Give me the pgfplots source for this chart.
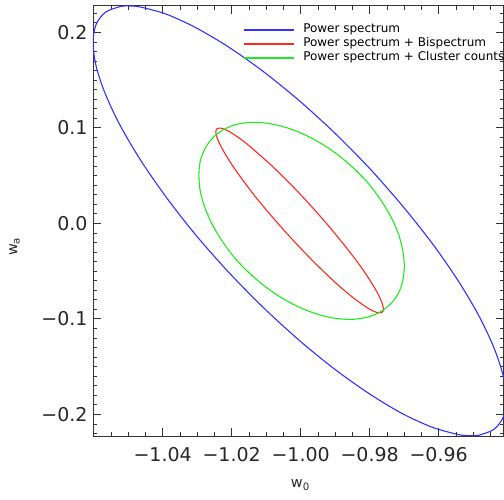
\documentclass[border=0pt]{standalone}
\usepackage{fontspec}
\setmainfont{DejaVu Sans}
\usepackage{pgfplots}
\pgfplotsset{compat=1.18}
\definecolor{cblue}{RGB}{50,50,255}
\definecolor{cred}{RGB}{255,40,30}
\definecolor{cgreen}{RGB}{30,235,30}
\begin{document}
\begin{tikzpicture}
\useasboundingbox (0,0) rectangle (504pt,500pt);
\begin{axis}[
  at={(93pt,64pt)}, anchor=south west,
  scale only axis, width=410.5pt, height=430.3pt,
  xmin=-1.0602, xmax=-0.9412, ymin=-0.2227, ymax=0.2279,
  xtick={-1.04,-1.02,-1.00,-0.98,-0.96},
  xticklabels={−1.04,−1.02,−1.00,−0.98,−0.96},
  ytick={-0.2,-0.1,0,0.1,0.2},
  yticklabels={−0.2,−0.1,0.0,0.1,0.2},
  minor xtick={-1.06,-1.055,...,-0.94},
  minor ytick={-0.22,-0.21,...,0.225},
  tick align=inside,
  major tick length=8pt, minor tick length=4pt,
  tick label style={font=\fontsize{19}{22}\selectfont, black!85},
  xticklabel style={yshift=-8pt},
  yticklabel style={xshift=-2pt},
  axis line style={black!80, line width=0.8pt},
  every tick/.style={black!80, line width=0.7pt},
  label style={font=\fontsize{14.5}{17}\selectfont, black!85},
  xlabel={w\textsubscript{0}}, ylabel={w\textsubscript{a}},
  xlabel style={at={(axis description cs:0.505,-0.1208)}, anchor=base},
  ylabel style={at={(axis description cs:-0.184,0.44)}, anchor=base},
  legend style={at={(axis description cs:0.358,0.962)}, anchor=north west,
    draw=none, fill=none, font=\fontsize{12}{14}\selectfont,
    column sep=9pt, row sep=2.5pt,
    nodes={inner sep=0pt, text height=8.5pt, text depth=3pt}},
  legend cell align=left,
  legend image code/.code={\draw[#1] (0pt,0pt) -- (50pt,0pt);},
]
\addplot[cblue, line width=1.1pt, smooth] coordinates {
(-0.9404,-0.1842) (-0.9413,-0.1595) (-0.9440,-0.1300) (-0.9484,-0.0964)
(-0.9544,-0.0598) (-0.9618,-0.0213) (-0.9704,0.0179) (-0.9798,0.0567)
(-0.9899,0.0938) (-1.0003,0.1281) (-1.0107,0.1586) (-1.0208,0.1844)
(-1.0303,0.2047) (-1.0388,0.2188) (-1.0462,0.2263) (-1.0494,0.2276)
(-1.0522,0.2271) (-1.0566,0.2210) (-1.0593,0.2083) (-1.0602,0.1894)
(-1.0593,0.1647) (-1.0566,0.1352) (-1.0522,0.1016) (-1.0462,0.0650)
(-1.0388,0.0265) (-1.0303,-0.0127) (-1.0208,-0.0515) (-1.0107,-0.0886)
(-1.0003,-0.1229) (-0.9899,-0.1534) (-0.9798,-0.1792) (-0.9704,-0.1995)
(-0.9618,-0.2136) (-0.9544,-0.2211) (-0.9512,-0.2224) (-0.9484,-0.2219)
(-0.9440,-0.2158) (-0.9413,-0.2031) (-0.9404,-0.1842)
};
\addlegendentry{Power spectrum}
\addplot[cred, line width=1.1pt, smooth] coordinates {
(-0.9760,-0.0896) (-0.9764,-0.0834) (-0.9775,-0.0745) (-0.9793,-0.0632)
(-0.9817,-0.0499) (-0.9847,-0.0350) (-0.9882,-0.0190) (-0.9920,-0.0023)
(-0.9961,0.0146) (-1.0003,0.0311) (-1.0045,0.0467) (-1.0086,0.0611)
(-1.0125,0.0736) (-1.0159,0.0841) (-1.0189,0.0920) (-1.0213,0.0973)
(-1.0231,0.0997) (-1.0242,0.0991) (-1.0245,0.0977) (-1.0246,0.0956)
(-1.0242,0.0893) (-1.0231,0.0805) (-1.0213,0.0692) (-1.0189,0.0559)
(-1.0159,0.0410) (-1.0125,0.0250) (-1.0086,0.0083) (-1.0045,-0.0086)
(-1.0003,-0.0251) (-0.9961,-0.0407) (-0.9920,-0.0551) (-0.9882,-0.0676)
(-0.9847,-0.0781) (-0.9817,-0.0860) (-0.9793,-0.0913) (-0.9775,-0.0937)
(-0.9764,-0.0931) (-0.9761,-0.0917) (-0.9760,-0.0896)
};
\addlegendentry{Power spectrum + Bispectrum}
\addplot[cgreen, line width=1.1pt, smooth] coordinates {
(-0.9699,-0.0449) (-0.9704,-0.0282) (-0.9717,-0.0107) (-0.9739,0.0073)
(-0.9769,0.0251) (-0.9805,0.0423) (-0.9848,0.0582) (-0.9895,0.0725)
(-0.9945,0.0846) (-0.9997,0.0942) (-1.0049,0.1011) (-1.0099,0.1049)
(-1.0146,0.1057) (-1.0189,0.1033) (-1.0225,0.0979) (-1.0255,0.0895)
(-1.0277,0.0786) (-1.0291,0.0653) (-1.0295,0.0501) (-1.0291,0.0334)
(-1.0277,0.0159) (-1.0255,-0.0021) (-1.0225,-0.0199) (-1.0189,-0.0371)
(-1.0146,-0.0530) (-1.0099,-0.0673) (-1.0049,-0.0794) (-0.9997,-0.0890)
(-0.9945,-0.0959) (-0.9895,-0.0997) (-0.9848,-0.1005) (-0.9805,-0.0981)
(-0.9769,-0.0927) (-0.9739,-0.0843) (-0.9717,-0.0734) (-0.9704,-0.0601)
(-0.9699,-0.0449)
};
\addlegendentry{Power spectrum + Cluster counts}
\end{axis}
\end{tikzpicture}
\end{document}
